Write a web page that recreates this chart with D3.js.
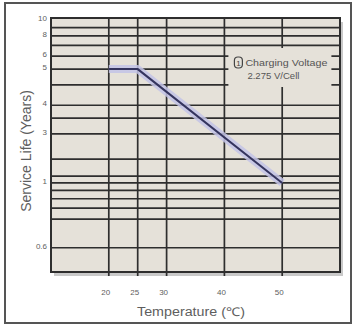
<!DOCTYPE html>
<html><head><meta charset="utf-8">
<script src="https://cdn.jsdelivr.net/npm/d3@7"></script>
<style>body{margin:0;background:#fff}svg{display:block}</style>
</head><body>
<script>
// ---- data ----
const temps = [20, 25, 50];
const lifeYears = [5, 5, 1];
const xTickValues = [20, 25, 30, 40, 50];
const yGridValues = [9, 8, 7, 6, 5, 4, 3, 2.5, 2, 1.4, 1.1, 1, 0.9, 0.8, 0.7, 0.6, 0.4];
const yTickValues = [10, 8, 6, 5, 3, 2, 1, 0.4];
const yTickLabels = ["10", "8", "6", "5", "4", "3", "1", "0.6"];
const noteLines = ["Charging Voltage", "2.275 V/Cell"];

// ---- layout ----
const W = 355, H = 325;
const P = {l: 51, r: 340, t: 18, b: 272};
const grid = "#2e2e2e", bg = "#e5e1d9", txt = "#5e5e5e";
const font = "Liberation Sans, Arial, sans-serif";

const svg = d3.select("body").append("svg").attr("width", W).attr("height", H);
svg.append("rect").attr("width", W).attr("height", H).attr("fill", "#fff");
// outer frame
svg.append("rect").attr("x", 5).attr("y", 3).attr("width", 346).attr("height", 320)
  .attr("fill", "none").attr("stroke", "#555").attr("stroke-width", 2);

const x = d3.scaleLinear().domain([10, 60]).range([P.l, P.r]);
const y = d3.scaleLog().domain([0.284, 10.3]).range([P.b, P.t]);

// shadow + plot background
svg.append("rect").attr("x", P.l + 3).attr("y", P.t + 4).attr("width", P.r - P.l).attr("height", P.b - P.t)
  .attr("fill", "#c9c9c9");
svg.append("rect").attr("x", P.l).attr("y", P.t).attr("width", P.r - P.l).attr("height", P.b - P.t)
  .attr("fill", bg);

// horizontal grid
svg.append("g").selectAll("line").data(yGridValues).join("line")
  .attr("x1", P.l).attr("x2", P.r).attr("y1", d => y(d)).attr("y2", d => y(d))
  .attr("stroke", grid).attr("stroke-width", 1.7);
// vertical grid (extends slightly below as tick)
svg.append("g").selectAll("line").data(xTickValues).join("line")
  .attr("x1", d => x(d)).attr("x2", d => x(d)).attr("y1", P.t).attr("y2", P.b + 4)
  .attr("stroke", grid).attr("stroke-width", 1.7);

// annotation box (covers grid)
const nb = {x: x(40) + 4, y: 48, w: 103, h: 39};
svg.append("rect").attr("x", nb.x).attr("y", nb.y).attr("width", nb.w).attr("height", nb.h).attr("fill", bg);
svg.append("rect").attr("x", nb.x + 6).attr("y", nb.y + 9).attr("width", 8).attr("height", 11).attr("rx", 3.5)
  .attr("fill", "none").attr("stroke", "#444").attr("stroke-width", 1.2);
svg.append("text").attr("x", nb.x + 10).attr("y", nb.y + 18).attr("text-anchor", "middle")
  .attr("font-family", font).attr("font-size", 8).attr("fill", "#444").text("1");
svg.append("g").selectAll("text").data(noteLines).join("text")
  .attr("x", (d, i) => nb.x + 17 + i * 2).attr("y", (d, i) => nb.y + 18 + i * 13)
  .attr("font-family", font).attr("font-size", 9).attr("fill", "#555")
  .attr("textLength", (d, i) => i === 0 ? 82 : 52).attr("lengthAdjust", "spacingAndGlyphs")
  .text(d => d);

// plot border
svg.append("rect").attr("x", P.l).attr("y", P.t).attr("width", P.r - P.l).attr("height", P.b - P.t)
  .attr("fill", "none").attr("stroke", grid).attr("stroke-width", 2);

// life line
const pts = temps.map((t, i) => [t, lifeYears[i]]);
const line = d3.line().x(d => x(d[0])).y(d => y(d[1]));
svg.append("path").attr("d", line(pts)).attr("fill", "none").attr("stroke", "#c3c3e6")
  .attr("stroke-width", 8).attr("stroke-linejoin", "round").attr("opacity", 0.85);
svg.append("path").attr("d", line(pts)).attr("fill", "none").attr("stroke", "#34345e")
  .attr("stroke-width", 2);

// y tick labels
svg.append("g").selectAll("text").data(yTickValues).join("text")
  .attr("x", 47).attr("y", d => y(d) - 1).attr("text-anchor", "end").attr("dominant-baseline", "middle")
  .attr("font-family", font).attr("font-size", 8).attr("fill", txt)
  .text((d, i) => yTickLabels[i]);
// x tick labels
svg.append("g").selectAll("text").data(xTickValues).join("text")
  .attr("x", d => x(d) - 3).attr("y", 295).attr("text-anchor", "middle")
  .attr("font-family", font).attr("font-size", 8).attr("fill", txt)
  .text(d => d);

// axis titles
svg.append("text").attr("x", 191).attr("y", 316).attr("text-anchor", "middle")
  .attr("font-family", font).attr("font-size", 12).attr("fill", txt)
  .attr("textLength", 108).attr("lengthAdjust", "spacingAndGlyphs")
  .text("Temperature (℃)");
svg.append("text").attr("transform", "translate(31,151) rotate(-90)").attr("text-anchor", "middle")
  .attr("font-family", font).attr("font-size", 14).attr("fill", txt)
  .text("Service Life (Years)");
</script>
</body></html>
